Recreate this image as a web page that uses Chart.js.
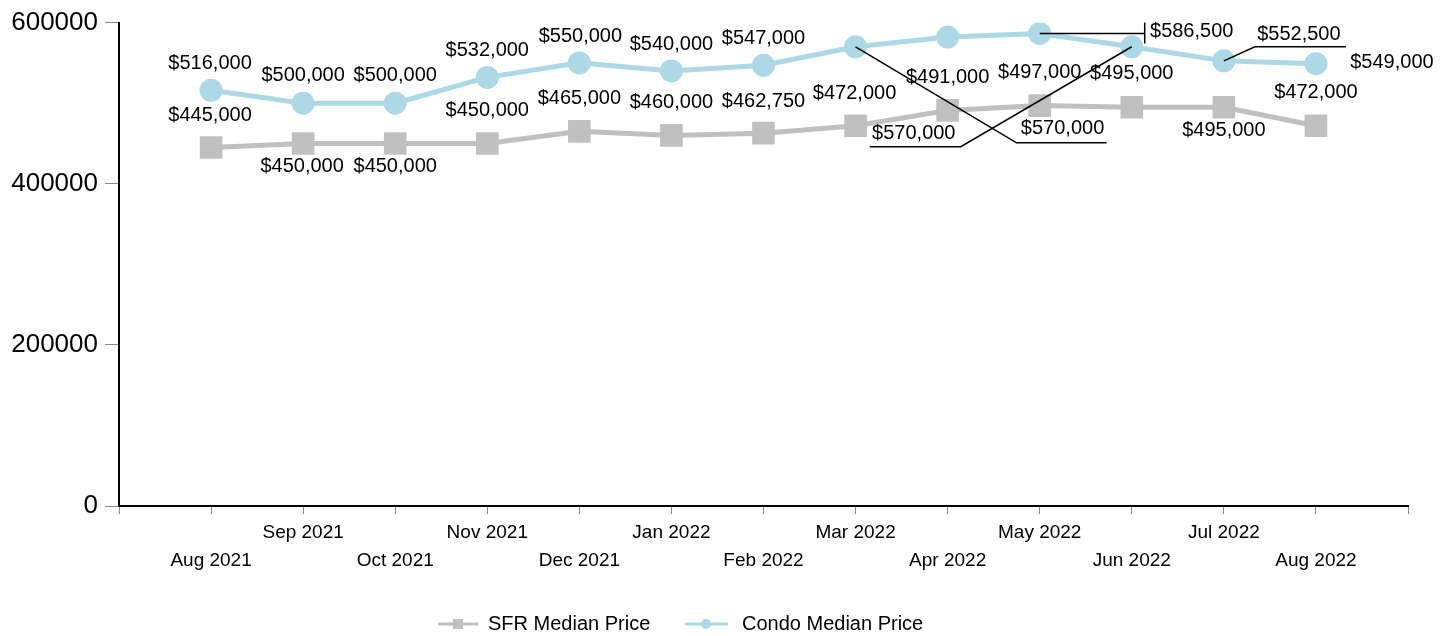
<!DOCTYPE html>
<html>
<head>
<meta charset="utf-8">
<script src="https://cdn.jsdelivr.net/npm/chart.js@4.4.1/dist/chart.umd.min.js"></script>
<style>
  html, body { margin: 0; padding: 0; background: #ffffff; }
  #wrap { width: 1453px; height: 636px; position: relative; }
</style>
</head>
<body>
<div id="wrap"><canvas id="c" width="1453" height="636"></canvas></div>
<script>
// ---- data ----
const categories = ['Aug 2021','Sep 2021','Oct 2021','Nov 2021','Dec 2021','Jan 2022','Feb 2022','Mar 2022','Apr 2022','May 2022','Jun 2022','Jul 2022','Aug 2022'];
const sfrValues   = [445000,450000,450000,450000,465000,460000,462750,472000,491000,497000,495000,495000,472000];
const condoValues = [516000,500000,500000,532000,550000,540000,547000,570000,582000,586500,570000,552500,549000];
const seriesNames = ['SFR Median Price','Condo Median Price'];
const yTickValues = [0,200000,400000,600000];

// ---- label placement (styling only: offsets from each point, in px) ----
const sfrLabelPos = [
  {dx:-1,dy:-32},{dx:-1,dy:23},{dx:0,dy:23},{dx:0,dy:-33},{dx:0,dy:-33},{dx:0,dy:-33},{dx:0,dy:-32},
  {dx:-1,dy:-32},{dx:0,dy:-33},{dx:0,dy:-33},{dx:0,dy:-34},{dx:0,dy:23},{dx:0,dy:-33}
];
const condoLabelPos = [
  {dx:-1,dy:-27},{dx:0,dy:-28},{dx:0,dy:-28},{dx:0,dy:-27},{dx:1,dy:-26},{dx:0,dy:-26},{dx:0,dy:-27},
  {dx:207,dy:82,leader:[[0,0],[161,96],[251,96]]},
  null,
  {dx:152,dy:-2,leader:[[0,0],[105,0]],bar:{x:105,y1:-11,y2:10}},
  {dx:-218,dy:87,leader:[[0,0],[-171,100],[-262,100]]},
  {dx:75,dy:-26,leader:[[0,0],[31,-14],[122,-14]]},
  {dx:76,dy:-1}
];

const SFR_COLOR = '#c0c0c0';
const CONDO_COLOR = '#add8e6';
const FONT = '"Liberation Sans", Arial, Helvetica, sans-serif';

function fmt(v) { return '$' + v.toLocaleString('en-US'); }

const labelPlugin = {
  id: 'pointLabels',
  afterDatasetsDraw(chart) {
    const ctx = chart.ctx;
    const configs = [sfrLabelPos, condoLabelPos];
    const values = [sfrValues, condoValues];
    ctx.save();
    chart.data.datasets.forEach((ds, di) => {
      const meta = chart.getDatasetMeta(di);
      meta.data.forEach((pt, i) => {
        const c = configs[di][i];
        if (!c) return;
        const px = pt.x, py = pt.y;
        if (c.leader) {
          ctx.beginPath();
          ctx.strokeStyle = '#000';
          ctx.lineWidth = 1.5;
          c.leader.forEach((p, k) => {
            if (k === 0) ctx.moveTo(px + p[0], py + p[1]); else ctx.lineTo(px + p[0], py + p[1]);
          });
          ctx.stroke();
        }
        if (c.bar) {
          ctx.beginPath();
          ctx.moveTo(px + c.bar.x, py + c.bar.y1);
          ctx.lineTo(px + c.bar.x, py + c.bar.y2);
          ctx.stroke();
        }
      });
    });
    chart.data.datasets.forEach((ds, di) => {
      const meta = chart.getDatasetMeta(di);
      meta.data.forEach((pt, i) => {
        const c = configs[di][i];
        if (!c) return;
        ctx.font = '20px ' + FONT;
        ctx.fillStyle = '#000';
        ctx.textAlign = 'center';
        ctx.textBaseline = 'middle';
        ctx.fillText(fmt(values[di][i]), pt.x + c.dx, pt.y + c.dy);
      });
    });
    ctx.restore();
  }
};

const legendPlugin = {
  id: 'customLegend',
  afterDraw(chart) {
    const ctx = chart.ctx;
    const y = 624;
    ctx.save();
    // SFR
    ctx.strokeStyle = SFR_COLOR; ctx.lineWidth = 3;
    ctx.beginPath(); ctx.moveTo(438, y); ctx.lineTo(478, y); ctx.stroke();
    ctx.fillStyle = SFR_COLOR; ctx.fillRect(458 - 5, y - 5, 10, 10);
    // Condo
    ctx.strokeStyle = CONDO_COLOR;
    ctx.beginPath(); ctx.moveTo(685, y); ctx.lineTo(728, y); ctx.stroke();
    ctx.fillStyle = CONDO_COLOR; ctx.beginPath(); ctx.arc(706, y, 5, 0, Math.PI * 2); ctx.fill();
    ctx.font = '20px ' + FONT;
    ctx.fillStyle = '#000';
    ctx.textAlign = 'left'; ctx.textBaseline = 'middle';
    ctx.fillText(seriesNames[0], 488, y);
    ctx.fillText(seriesNames[1], 742, y);
    ctx.restore();
  }
};

const toPoints = arr => arr.map((v, i) => ({x: i + 1, y: v}));

new Chart(document.getElementById('c'), {
  type: 'line',
  data: {
    datasets: [
      {
        label: seriesNames[0],
        data: toPoints(sfrValues),
        borderColor: SFR_COLOR,
        backgroundColor: SFR_COLOR,
        borderWidth: 5,
        pointStyle: 'rect',
        pointRadius: 16,
        pointBorderWidth: 0,
        pointBackgroundColor: SFR_COLOR,
        tension: 0
      },
      {
        label: seriesNames[1],
        data: toPoints(condoValues),
        borderColor: CONDO_COLOR,
        backgroundColor: CONDO_COLOR,
        borderWidth: 5,
        pointStyle: 'circle',
        pointRadius: 11.5,
        pointBorderWidth: 0,
        pointBackgroundColor: CONDO_COLOR,
        tension: 0
      }
    ]
  },
  options: {
    responsive: false,
    animation: false,
    layout: { padding: { left: 0, right: 45, top: 22, bottom: 0 } },
    plugins: {
      legend: { display: false },
      tooltip: { enabled: false }
    },
    scales: {
      x: {
        type: 'linear',
        min: 0,
        max: categories.length + 1,
        afterFit(s) { s.height = 130; },
        afterBuildTicks(s) {
          const t = [];
          for (let i = 0; i <= categories.length + 1; i++) t.push({value: i});
          s.ticks = t;
        },
        ticks: {
          autoSkip: false,
          maxRotation: 0,
          padding: 5,
          color: '#000',
          font: { family: FONT, size: 19, lineHeight: 1.47 },
          callback(v) {
            const idx = v - 1;
            if (idx < 0 || idx >= categories.length) return '';
            return idx % 2 === 0 ? ['', categories[idx]] : [categories[idx]];
          }
        },
        grid: { drawOnChartArea: false, drawTicks: true, tickLength: 8, color: '#888888', lineWidth: 1 },
        border: { display: true, color: '#000', width: 2 }
      },
      y: {
        type: 'linear',
        min: 0,
        max: 600000,
        afterFit(s) { s.width = 119; },
        afterBuildTicks(s) { s.ticks = yTickValues.map(v => ({value: v})); },
        ticks: {
          padding: 7,
          color: '#000',
          font: { family: FONT, size: 26 },
          callback(v) { return String(v); }
        },
        grid: { drawOnChartArea: false, drawTicks: true, tickLength: 14, color: '#888888', lineWidth: 1 },
        border: { display: true, color: '#000', width: 2 }
      }
    }
  },
  plugins: [labelPlugin, legendPlugin]
});
</script>
</body>
</html>
